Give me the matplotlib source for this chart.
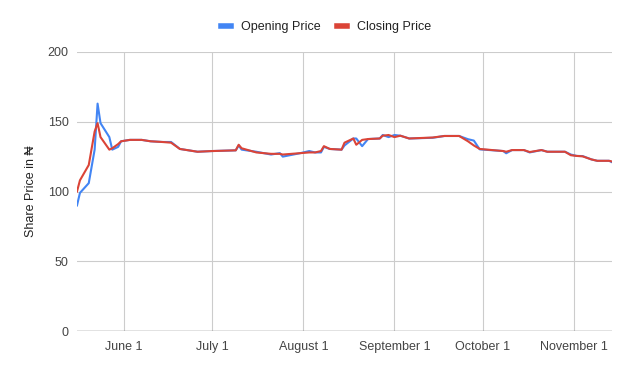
import matplotlib
matplotlib.use("Agg")

import matplotlib.pyplot as plt
import pandas as pd

dates = [
    "2019-05-16", "2019-05-17", "2019-05-20", "2019-05-22", "2019-05-23",
    "2019-05-24", "2019-05-27", "2019-05-28", "2019-05-30", "2019-05-31",
    "2019-06-03", "2019-06-07", "2019-06-10", "2019-06-14", "2019-06-17",
    "2019-06-20", "2019-06-26", "2019-07-01", "2019-07-09", "2019-07-10",
    "2019-07-11", "2019-07-16", "2019-07-21", "2019-07-24", "2019-07-25",
    "2019-07-31", "2019-08-03", "2019-08-05", "2019-08-07", "2019-08-08",
    "2019-08-10", "2019-08-14", "2019-08-15", "2019-08-18", "2019-08-19",
    "2019-08-21", "2019-08-23", "2019-08-27", "2019-08-28", "2019-08-30",
    "2019-09-01", "2019-09-03", "2019-09-06", "2019-09-14", "2019-09-18",
    "2019-09-23", "2019-09-26", "2019-09-28", "2019-09-30", "2019-10-08",
    "2019-10-09", "2019-10-11", "2019-10-15", "2019-10-17", "2019-10-21",
    "2019-10-23", "2019-10-29", "2019-10-31", "2019-11-02", "2019-11-04",
    "2019-11-07", "2019-11-09", "2019-11-13", "2019-11-14",
]
opening = [
    90, 99, 106, 130, 163, 149, 139, 130, 132, 136,
    137, 137, 136, 135.5, 135.5, 130.5, 128.5, 129, 129.5, 133,
    130, 128.5, 126.5, 127.5, 125, 127.5, 129, 128, 128, 132,
    130.5, 130, 133, 138, 138, 132.5, 137.6, 138, 140.5, 139,
    140.5, 140, 138, 138.5, 139.8, 139.8, 137.5, 136.5, 130.2, 129,
    127.4, 129.7, 129.7, 128, 129.7, 128.5, 128.5, 126.5, 125.5, 125.4,
    123, 122, 122, 121,
]
closing = [
    100, 108, 119, 143, 149, 139, 130, 131, 134, 136,
    137, 137, 136, 135.5, 135, 130.5, 128.5, 129, 129.5, 133.5,
    131, 128, 127, 127, 126.5, 127.5, 128, 128, 129, 132.5,
    130.5, 130, 135, 138, 133.5, 137, 137.6, 138, 140, 140.5,
    139, 140, 138, 138.7, 139.8, 139.8, 136, 133, 130.5, 129,
    128.5, 129.7, 129.7, 128.3, 129.7, 128.5, 128.5, 126, 125.5, 125.2,
    123, 122, 122, 121.5,
]
month_ticks = ["2019-06-01", "2019-07-01", "2019-08-01", "2019-09-01", "2019-10-01", "2019-11-01"]
month_labels = ["June 1", "July 1", "August 1", "September 1", "October 1", "November 1"]

plt.rcParams["font.family"] = ["Liberation Sans", "DejaVu Sans"]

x = pd.to_datetime(dates)

fig = plt.figure(figsize=(6.38, 3.71), dpi=100)
ax = fig.add_axes([77 / 638, 1 - 331 / 371, (612 - 77) / 638, (331 - 52) / 371])

ax.plot(x, opening, color="#4285F4", linewidth=1.5, label="Opening Price", zorder=3)
ax.plot(x, closing, color="#DB4437", linewidth=1.5, label="Closing Price", zorder=4)

ax.set_xlim(x[0], x[-1])
ax.set_ylim(0, 200)
ax.set_yticks([0, 50, 100, 150, 200])
ax.set_xticks(pd.to_datetime(month_ticks))
ax.set_xticklabels(month_labels)

ax.grid(True, color="#cccccc", linewidth=0.8)
ax.set_axisbelow(True)
for s in ax.spines.values():
    s.set_visible(False)
ax.axhline(0, color="#333333", linewidth=0.9, zorder=2)
ax.tick_params(length=0, labelsize=9, colors="#444444", pad=7)
ax.tick_params(axis="y", pad=6)

ax.set_ylabel("Share Price in ₦", fontsize=9, color="#222222", labelpad=8)

ax.legend(loc="lower center", bbox_to_anchor=(0.465, 1.028), ncol=2, frameon=False,
          fontsize=9, handlelength=0.8, columnspacing=1.3, handletextpad=0.8,
          labelcolor="#222222")
leg = ax.get_legend()
for h in leg.get_lines():
    h.set_linewidth(4)

fig.savefig("out.png", dpi=100)
